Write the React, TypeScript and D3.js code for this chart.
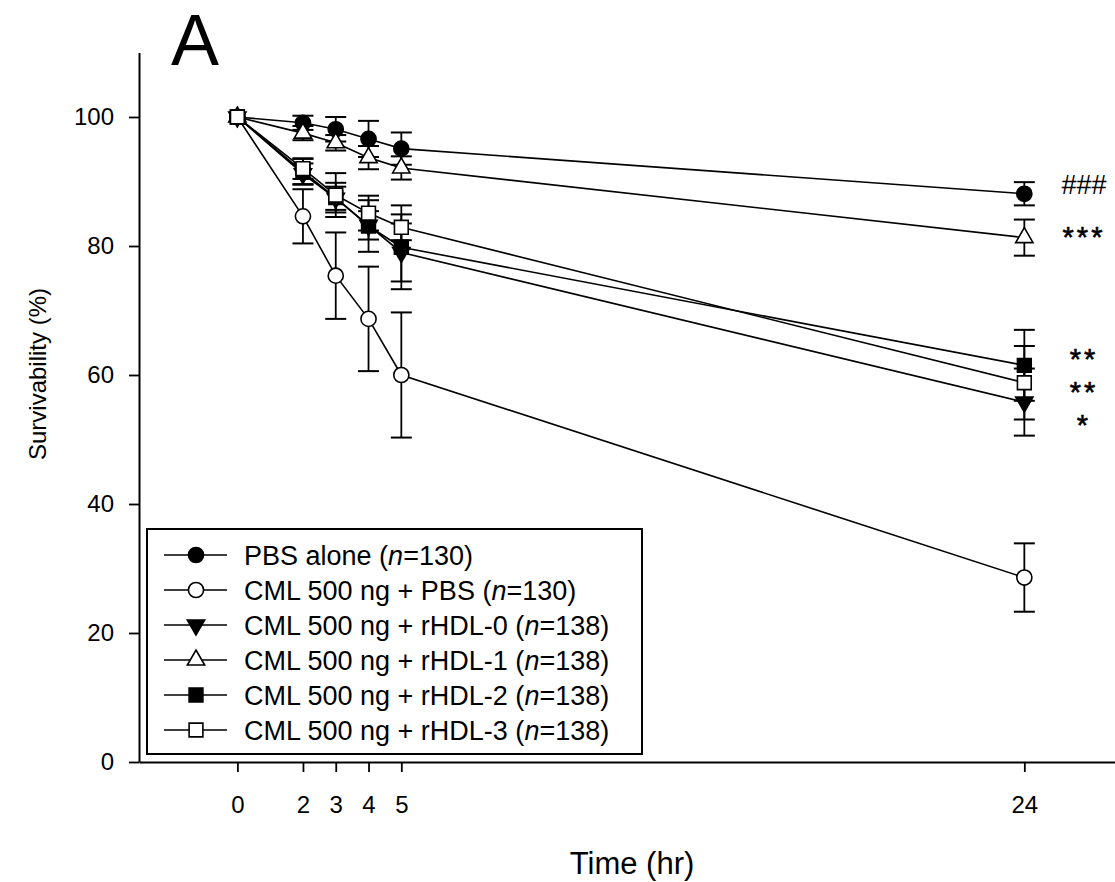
import { useEffect, useRef } from 'react';
import * as d3 from 'd3';

// Time points (hr) and tick labels
const times = [0, 2, 3, 4, 5, 24];
const xTicks = [0, 2, 3, 4, 5, 24];
const yTicks = [0, 20, 40, 60, 80, 100];

// Survivability (%) per group, with error bars
const pbsAlone = [100, 99.1, 98.1, 96.6, 95.1, 88.1];
const pbsAloneErr = [0, 1.1, 1.9, 2.8, 2.5, 1.8];
const cmlPbs = [100, 84.6, 75.4, 68.7, 60.0, 28.6];
const cmlPbsErr = [0, 4.2, 6.7, 8.1, 9.7, 5.3];
const rhdl0 = [100, 91.2, 87.4, 83.2, 79.0, 55.8];
const rhdl0Err = [0, 1.6, 1.8, 2.2, 4.5, 5.2];
const rhdl1 = [100, 97.5, 96.0, 93.7, 92.1, 81.3];
const rhdl1Err = [0, 1.1, 1.2, 1.8, 1.8, 2.8];
const rhdl2 = [100, 91.5, 87.5, 83.1, 79.8, 61.5];
const rhdl2Err = [0, 2.0, 2.3, 4.0, 6.5, 5.5];
const rhdl3 = [100, 92.0, 87.9, 85.1, 82.9, 58.8];
const rhdl3Err = [0, 1.6, 3.4, 2.7, 2.0, 5.7];

const labels = ['PBS alone', 'CML 500 ng + PBS', 'CML 500 ng + rHDL-0', 'CML 500 ng + rHDL-1', 'CML 500 ng + rHDL-2', 'CML 500 ng + rHDL-3'];
const ns = ['130', '130', '138', '138', '138', '138'];
const shapes = ['circle', 'circle', 'triDown', 'triUp', 'square', 'square'];
const filled = [true, false, true, false, true, false];
const values = [pbsAlone, cmlPbs, rhdl0, rhdl1, rhdl2, rhdl3];
const errors = [pbsAloneErr, cmlPbsErr, rhdl0Err, rhdl1Err, rhdl2Err, rhdl3Err];

// significance marks at 24 hr (vertical centre, in % units)
const sigMarks = ['###', '***', '**', '**', '*'];
const sigValues = [89.5, 82.5, 63.5, 58.4, 53.3];

const FONT = '"Liberation Sans", Arial, sans-serif';

function symbolPath(shape) {
    if (shape === 'circle') return d3.symbol(d3.symbolCircle, 180)();
    if (shape === 'square') return d3.symbol(d3.symbolSquare, 190)();
    return d3.symbol(d3.symbolTriangle, 130)();
}

export default function App() {
    const svgRef = useRef(null);

    useEffect(() => {
        const svg = d3.select(svgRef.current);
        svg.selectAll('*').remove();

        const x = d3.scaleLinear().domain([-3, 27]).range([139, 139 + 30 * 32.79]);
        const y = d3.scaleLinear().domain([0, 110]).range([762, 52.5]);

        // Axes
        const xAxis = svg.append('g')
            .attr('transform', 'translate(0,762)')
            .call(d3.axisBottom(x).tickValues(xTicks).tickSize(10).tickSizeOuter(0).tickPadding(24));
        const yAxis = svg.append('g')
            .attr('transform', 'translate(139,0)')
            .call(d3.axisLeft(y).tickValues(yTicks).tickSize(10).tickSizeOuter(0).tickPadding(15));

        [xAxis, yAxis].forEach(a => {
            a.select('.domain').attr('stroke', '#000').attr('stroke-width', 2);
            a.selectAll('.tick line').attr('stroke', '#000').attr('stroke-width', 1.8);
            a.selectAll('text').attr('fill', '#000').attr('font-size', 24).attr('font-family', FONT);
        });

        // Series: line, error bars, markers
        values.forEach((vals, s) => {
            const pts = times.map((t, i) => ({ t, v: vals[i], e: errors[s][i] }));
            const g = svg.append('g');

            g.append('path')
                .datum(pts)
                .attr('fill', 'none')
                .attr('stroke', '#000')
                .attr('stroke-width', 1.6)
                .attr('d', d3.line().x(d => x(d.t)).y(d => y(d.v)));

            const bars = g.selectAll('.err').data(pts.filter(d => d.e > 0)).join('g');
            bars.append('line')
                .attr('x1', d => x(d.t)).attr('x2', d => x(d.t))
                .attr('y1', d => y(d.v + d.e)).attr('y2', d => y(d.v - d.e))
                .attr('stroke', '#000').attr('stroke-width', 1.8);
            [1, -1].forEach(sign => {
                bars.append('line')
                    .attr('x1', d => x(d.t) - 10.5).attr('x2', d => x(d.t) + 10.5)
                    .attr('y1', d => y(d.v + sign * d.e)).attr('y2', d => y(d.v + sign * d.e))
                    .attr('stroke', '#000').attr('stroke-width', 2);
            });

            g.selectAll('.mk').data(pts).join('path')
                .attr('d', symbolPath(shapes[s]))
                .attr('transform', d => `translate(${x(d.t)},${y(d.v)})${shapes[s] === 'triDown' ? ' rotate(180)' : ''}`)
                .attr('fill', filled[s] ? '#000' : '#fff')
                .attr('stroke', '#000')
                .attr('stroke-width', 1.6);
        });

        // Significance marks
        sigMarks.forEach((m, i) => {
            const isHash = m.startsWith('#');
            const fs = isHash ? 27 : 29;
            svg.append('text')
                .attr('x', 1084)
                .attr('y', y(sigValues[i]) + (isHash ? 0.35 : 0.58) * fs)
                .attr('text-anchor', 'middle')
                .attr('font-family', FONT)
                .attr('font-size', fs)
                .attr('letter-spacing', isHash ? 0 : 3)
                .attr('stroke', isHash ? 'none' : '#000')
                .attr('stroke-width', 0.6)
                .attr('fill', '#000')
                .text(m);
        });

        // Legend
        const lg = svg.append('g');
        lg.append('rect')
            .attr('x', 147).attr('y', 529).attr('width', 495).attr('height', 225)
            .attr('fill', '#fff').attr('stroke', '#000').attr('stroke-width', 2);
        labels.forEach((lab, i) => {
            const cy = 555 + i * 35;
            lg.append('line')
                .attr('x1', 164).attr('x2', 227).attr('y1', cy).attr('y2', cy)
                .attr('stroke', '#000').attr('stroke-width', 1.6);
            lg.append('path')
                .attr('d', symbolPath(shapes[i]))
                .attr('transform', `translate(196,${cy})${shapes[i] === 'triDown' ? ' rotate(180)' : ''}`)
                .attr('fill', filled[i] ? '#000' : '#fff')
                .attr('stroke', '#000').attr('stroke-width', 1.6);
            const t = lg.append('text')
                .attr('x', 244).attr('y', cy + 10)
                .attr('font-family', FONT).attr('font-size', 27).attr('fill', '#000');
            t.append('tspan').text(`${lab} (`);
            t.append('tspan').attr('font-style', 'italic').text('n');
            t.append('tspan').text(`=${ns[i]})`);
        });

        // Titles
        svg.append('text')
            .attr('x', 632).attr('y', 874)
            .attr('text-anchor', 'middle')
            .attr('font-family', FONT).attr('font-size', 31).attr('fill', '#000')
            .text('Time (hr)');

        svg.append('text')
            .attr('transform', 'translate(46,374) rotate(-90)')
            .attr('text-anchor', 'middle')
            .attr('font-family', FONT).attr('font-size', 24).attr('fill', '#000')
            .text('Survivability (%)');

        svg.append('text')
            .attr('x', 171).attr('y', 65)
            .attr('font-family', FONT).attr('font-size', 72).attr('fill', '#000')
            .text('A');
    }, []);

    return (
        <svg
            ref={svgRef}
            width={1115}
            height={882}
            style={{ position: 'absolute', left: 0, top: 0, background: '#fff' }}
        />
    );
}
